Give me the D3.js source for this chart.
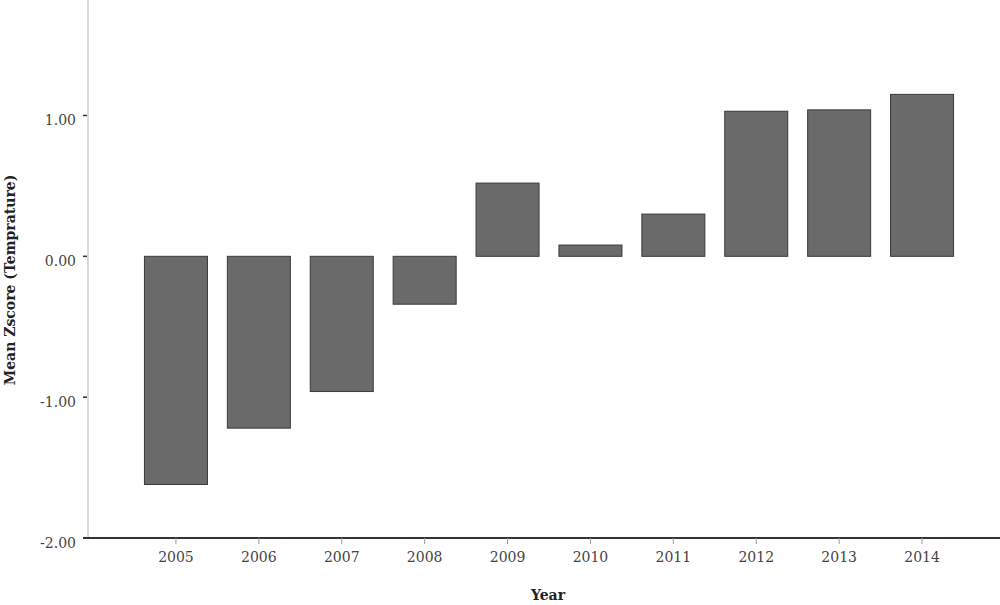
<!DOCTYPE html>
<html>
<head>
<meta charset="utf-8">
<script src="https://cdn.jsdelivr.net/npm/d3@7"></script>
<style>
  html, body { margin: 0; padding: 0; background: #fff; }
  svg { display: block; }
  text { font-family: "DejaVu Serif", "Liberation Serif", serif; }
</style>
</head>
<body>
<svg id="chart" width="1000" height="605"></svg>
<script>
const years = ["2005","2006","2007","2008","2009","2010","2011","2012","2013","2014"];
const values = [-1.62, -1.22, -0.96, -0.34, 0.52, 0.08, 0.30, 1.03, 1.04, 1.15];
const yTicks = [-2, -1, 0, 1];
const yTitle = "Mean Zscore (Temprature)";
const xTitle = "Year";

const svg = d3.select("#chart");

const y = d3.scaleLinear().domain([-2, 1.82]).range([538, 0]);
const x = d3.scaleBand().domain(years).range([103, 995]).paddingInner(0.24).paddingOuter(0.5);
const fmt = d3.formatLocale({decimal: ".", thousands: ",", grouping: [3], currency: ["", ""], minus: "-"}).format(".2f");

// y axis line (light grey)
svg.append("line")
  .attr("x1", 88).attr("x2", 88)
  .attr("y1", 0).attr("y2", y(-2))
  .attr("stroke", "#d8d8d8").attr("stroke-width", 2);

// y ticks and labels
const yt = svg.append("g");
yTicks.forEach(t => {
  yt.append("line")
    .attr("x1", 83).attr("x2", 87)
    .attr("y1", y(t)).attr("y2", y(t))
    .attr("stroke", "#333").attr("stroke-width", 1.5);
  yt.append("text")
    .attr("x", 76).attr("y", y(t) + 5)
    .attr("dy", "0.35em")
    .attr("text-anchor", "end")
    .attr("font-size", 14)
    .attr("fill", "#444")
    .text(fmt(t));
});

// bars
svg.append("g").selectAll("rect")
  .data(years.map((yr, i) => ({yr, v: values[i]})))
  .join("rect")
  .attr("x", d => x(d.yr))
  .attr("width", x.bandwidth())
  .attr("y", d => Math.min(y(d.v), y(0)))
  .attr("height", d => Math.abs(y(d.v) - y(0)))
  .attr("fill", "#6a6a6a")
  .attr("stroke", "#3a3a3a")
  .attr("stroke-width", 1);

// x axis line
svg.append("line")
  .attr("x1", 83).attr("x2", 1000)
  .attr("y1", y(-2)).attr("y2", y(-2))
  .attr("stroke", "#333").attr("stroke-width", 2);

// x ticks and labels
const xt = svg.append("g");
years.forEach(yr => {
  const cx = x(yr) + x.bandwidth() / 2;
  xt.append("line")
    .attr("x1", cx).attr("x2", cx)
    .attr("y1", y(-2)).attr("y2", y(-2) + 6)
    .attr("stroke", "#999").attr("stroke-width", 1);
  xt.append("text")
    .attr("x", cx).attr("y", 557)
    .attr("dy", "0.35em")
    .attr("text-anchor", "middle")
    .attr("font-size", 14)
    .attr("fill", "#444")
    .text(yr);
});

// axis titles
svg.append("text")
  .attr("x", 548).attr("y", 595)
  .attr("dy", "0.35em")
  .attr("text-anchor", "middle")
  .attr("font-size", 14)
  .attr("font-weight", "bold")
  .attr("fill", "#222")
  .text(xTitle);

svg.append("text")
  .attr("transform", "translate(10,280) rotate(-90)")
  .attr("dy", "0.35em")
  .attr("text-anchor", "middle")
  .attr("font-size", 14)
  .attr("font-weight", "bold")
  .attr("fill", "#222")
  .text(yTitle);
</script>
</body>
</html>
